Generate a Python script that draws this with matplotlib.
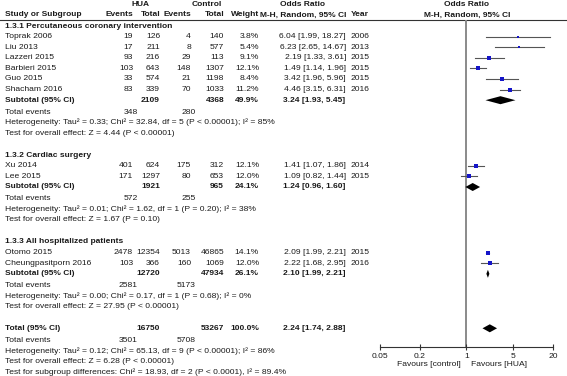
import matplotlib
matplotlib.use("Agg")
import matplotlib.pyplot as plt
from matplotlib.ticker import FixedLocator, FixedFormatter, NullLocator

plt.rcParams['font.family'] = ['Liberation Sans', 'DejaVu Sans']

# ---------------- data ----------------
studies = ["Toprak 2006", "Liu 2013", "Lazzeri 2015", "Barbieri 2015", "Guo 2015",
           "Shacham 2016", "Xu 2014", "Lee 2015", "Otomo 2015", "Cheungpasitporn 2016"]
study_group = [0, 0, 0, 0, 0, 0, 1, 1, 2, 2]
hua_events = [19, 17, 93, 103, 33, 83, 401, 171, 2478, 103]
hua_total = [126, 211, 216, 643, 574, 339, 624, 1297, 12354, 366]
ctrl_events = [4, 8, 29, 148, 21, 70, 175, 80, 5013, 160]
ctrl_total = [140, 577, 113, 1307, 1198, 1033, 312, 653, 46865, 1069]
weights = [3.8, 5.4, 9.1, 12.1, 8.4, 11.2, 12.1, 12.0, 14.1, 12.0]
odds = [6.04, 6.23, 2.19, 1.49, 3.42, 4.46, 1.41, 1.09, 2.09, 2.22]
ci_low = [1.99, 2.65, 1.33, 1.14, 1.96, 3.15, 1.07, 0.82, 1.99, 1.68]
ci_high = [18.27, 14.67, 3.61, 1.96, 5.96, 6.31, 1.86, 1.44, 2.21, 2.95]
years = [2006, 2013, 2015, 2015, 2015, 2016, 2014, 2015, 2015, 2016]

groups = ["1.3.1 Percutaneous coronary intervention", "1.3.2 Cardiac surgery",
          "1.3.3 All hospitalized patients"]
sub_hua_total = [2109, 1921, 12720]
sub_ctrl_total = [4368, 965, 47934]
sub_weight = [49.9, 24.1, 26.1]
sub_odds = [3.24, 1.24, 2.10]
sub_low = [1.93, 0.96, 1.99]
sub_high = [5.45, 1.60, 2.21]
sub_hua_events = [348, 572, 2581]
sub_ctrl_events = [280, 255, 5173]
sub_het = ["Heterogeneity: Tau\u00b2 = 0.33; Chi\u00b2 = 32.84, df = 5 (P < 0.00001); I\u00b2 = 85%",
           "Heterogeneity: Tau\u00b2 = 0.01; Chi\u00b2 = 1.62, df = 1 (P = 0.20); I\u00b2 = 38%",
           "Heterogeneity: Tau\u00b2 = 0.00; Chi\u00b2 = 0.17, df = 1 (P = 0.68); I\u00b2 = 0%"]
sub_test = ["Test for overall effect: Z = 4.44 (P < 0.00001)",
            "Test for overall effect: Z = 1.67 (P = 0.10)",
            "Test for overall effect: Z = 27.95 (P < 0.00001)"]

tot_hua_total = 16750
tot_ctrl_total = 53267
tot_weight = 100.0
tot_odds, tot_low, tot_high = 2.24, 1.74, 2.88
tot_hua_events, tot_ctrl_events = 3501, 5708
tot_het = "Heterogeneity: Tau\u00b2 = 0.12; Chi\u00b2 = 65.13, df = 9 (P < 0.00001); I\u00b2 = 86%"
tot_test = "Test for overall effect: Z = 6.28 (P < 0.00001)"
subgroup_test = "Test for subgroup differences: Chi\u00b2 = 18.93, df = 2 (P < 0.0001), I\u00b2 = 89.4%"

tick_values = [0.05, 0.2, 1, 5, 20]
tick_labels = ["0.05", "0.2", "1", "5", "20"]

# ---------------- layout ----------------
W, H = 567, 376
fig = plt.figure(figsize=(W / 100, H / 100), dpi=100)
bg = fig.add_axes([0, 0, 1, 1])
bg.set_xlim(0, W)
bg.set_ylim(H, 0)
bg.axis('off')

FS = 6.1
FSB = 6.0
TC = '#1a1a1a'
X_NAME = 5
X_HE, X_HT, X_CE, X_CT, X_W, X_OR, X_YR = 133, 160, 191, 224, 259, 346, 351
EV_SHIFT = 5
ROW = 10.6

def txt(x, y, s, ha='left', bold=False):
    bg.text(x, y, s, ha=ha, va='center', fontsize=FSB if bold else FS, color=TC,
            fontweight='bold' if bold else 'normal')

# header
txt(141, 5, "HUA", 'center', True)
txt(207, 5, "Control", 'center', True)
txt(303, 5, "Odds Ratio", 'center', True)
txt(467, 5, "Odds Ratio", 'center', True)
txt(X_NAME, 15, "Study or Subgroup", bold=True)
txt(X_HE, 15, "Events", 'right', True)
txt(X_HT, 15, "Total", 'right', True)
txt(X_CE, 15, "Events", 'right', True)
txt(X_CT, 15, "Total", 'right', True)
txt(X_W, 15, "Weight", 'right', True)
txt(X_OR, 15, "M-H, Random, 95% CI", 'right', True)
txt(X_YR, 15, "Year", bold=True)
txt(467, 15, "M-H, Random, 95% CI", 'center', True)
bg.plot([0, W], [19.5, 19.5], color='#333333', lw=0.8)

# forest axes: y in pixel units, bottom spine is the scale
AX_TOP, AX_BOT, AX_L, AX_R = 19.5, 347, 380, 553
fx = fig.add_axes([AX_L / W, (H - AX_BOT) / H, (AX_R - AX_L) / W, (AX_BOT - AX_TOP) / H])
fx.set_xscale('log')
fx.set_xlim(tick_values[0], tick_values[-1])
fx.set_ylim(AX_BOT, AX_TOP)
fx.patch.set_alpha(0)
for s in ['top', 'right', 'left']:
    fx.spines[s].set_visible(False)
fx.spines['bottom'].set_color('#333333')
fx.spines['bottom'].set_linewidth(0.8)
fx.xaxis.set_major_locator(FixedLocator(tick_values))
fx.xaxis.set_major_formatter(FixedFormatter(tick_labels))
fx.xaxis.set_minor_locator(NullLocator())
fx.tick_params(axis='x', direction='inout', length=5, width=0.8, color='#333333',
               labelsize=FS, labelcolor=TC, pad=1.5)
fx.set_yticks([])
fx.axvline(1, color='#8a8a8a', lw=1.4, zorder=1)

def diamond(y, o, lo, hi, h=4):
    fx.fill([lo, o, hi, o], [y, y - h, y, y + h], color='black', zorder=3, lw=0)

y = 26
for g in range(3):
    txt(X_NAME, y, groups[g], bold=True)
    y += ROW
    for i, name in enumerate(studies):
        if study_group[i] != g:
            continue
        txt(X_NAME, y, name)
        txt(X_HE, y, str(hua_events[i]), 'right')
        txt(X_HT, y, str(hua_total[i]), 'right')
        txt(X_CE, y, str(ctrl_events[i]), 'right')
        txt(X_CT, y, str(ctrl_total[i]), 'right')
        txt(X_W, y, f"{weights[i]:.1f}%", 'right')
        txt(X_OR, y, f"{odds[i]:.2f} [{ci_low[i]:.2f}, {ci_high[i]:.2f}]", 'right')
        txt(X_YR, y, str(years[i]))
        fx.plot([ci_low[i], ci_high[i]], [y, y], color='#555555', lw=0.8, zorder=2)
        side = 1.6 + weights[i] / 14.1 * 2.4
        fx.plot([odds[i]], [y], marker='s', ms=side * 0.72, color='#1515c8',
                mew=0, zorder=4)
        y += ROW
    txt(X_NAME, y, "Subtotal (95% CI)", bold=True)
    txt(X_HT, y, str(sub_hua_total[g]), 'right', True)
    txt(X_CT, y, str(sub_ctrl_total[g]), 'right', True)
    txt(X_W, y, f"{sub_weight[g]:.1f}%", 'right', True)
    txt(283, y, f"{sub_odds[g]:.2f} [{sub_low[g]:.2f}, {sub_high[g]:.2f}]", 'left', True)
    diamond(y, sub_odds[g], sub_low[g], sub_high[g])
    y += ROW + 1.2
    txt(X_NAME, y, "Total events")
    txt(X_HE + EV_SHIFT, y, str(sub_hua_events[g]), 'right')
    txt(X_CE + EV_SHIFT, y, str(sub_ctrl_events[g]), 'right')
    y += ROW
    txt(X_NAME, y, sub_het[g])
    y += ROW
    txt(X_NAME, y, sub_test[g])
    y += ROW * 2 + 0.8

y -= 0.5
txt(X_NAME, y, "Total (95% CI)", bold=True)
txt(X_HT, y, str(tot_hua_total), 'right', True)
txt(X_CT, y, str(tot_ctrl_total), 'right', True)
txt(X_W, y, f"{tot_weight:.1f}%", 'right', True)
txt(283, y, f"{tot_odds:.2f} [{tot_low:.2f}, {tot_high:.2f}]", 'left', True)
diamond(y, tot_odds, tot_low, tot_high)
y += ROW + 1.2
txt(X_NAME, y, "Total events")
txt(X_HE + EV_SHIFT, y, str(tot_hua_events), 'right')
txt(X_CE + EV_SHIFT, y, str(tot_ctrl_events), 'right')
y += ROW
txt(X_NAME, y, tot_het)
y += ROW
txt(X_NAME, y, tot_test)
y += ROW
txt(X_NAME, y, subgroup_test)

txt(461, 364, "Favours [control]", 'right')
txt(471, 364, "Favours [HUA]", 'left')

fig.savefig("out.png", dpi=100)
